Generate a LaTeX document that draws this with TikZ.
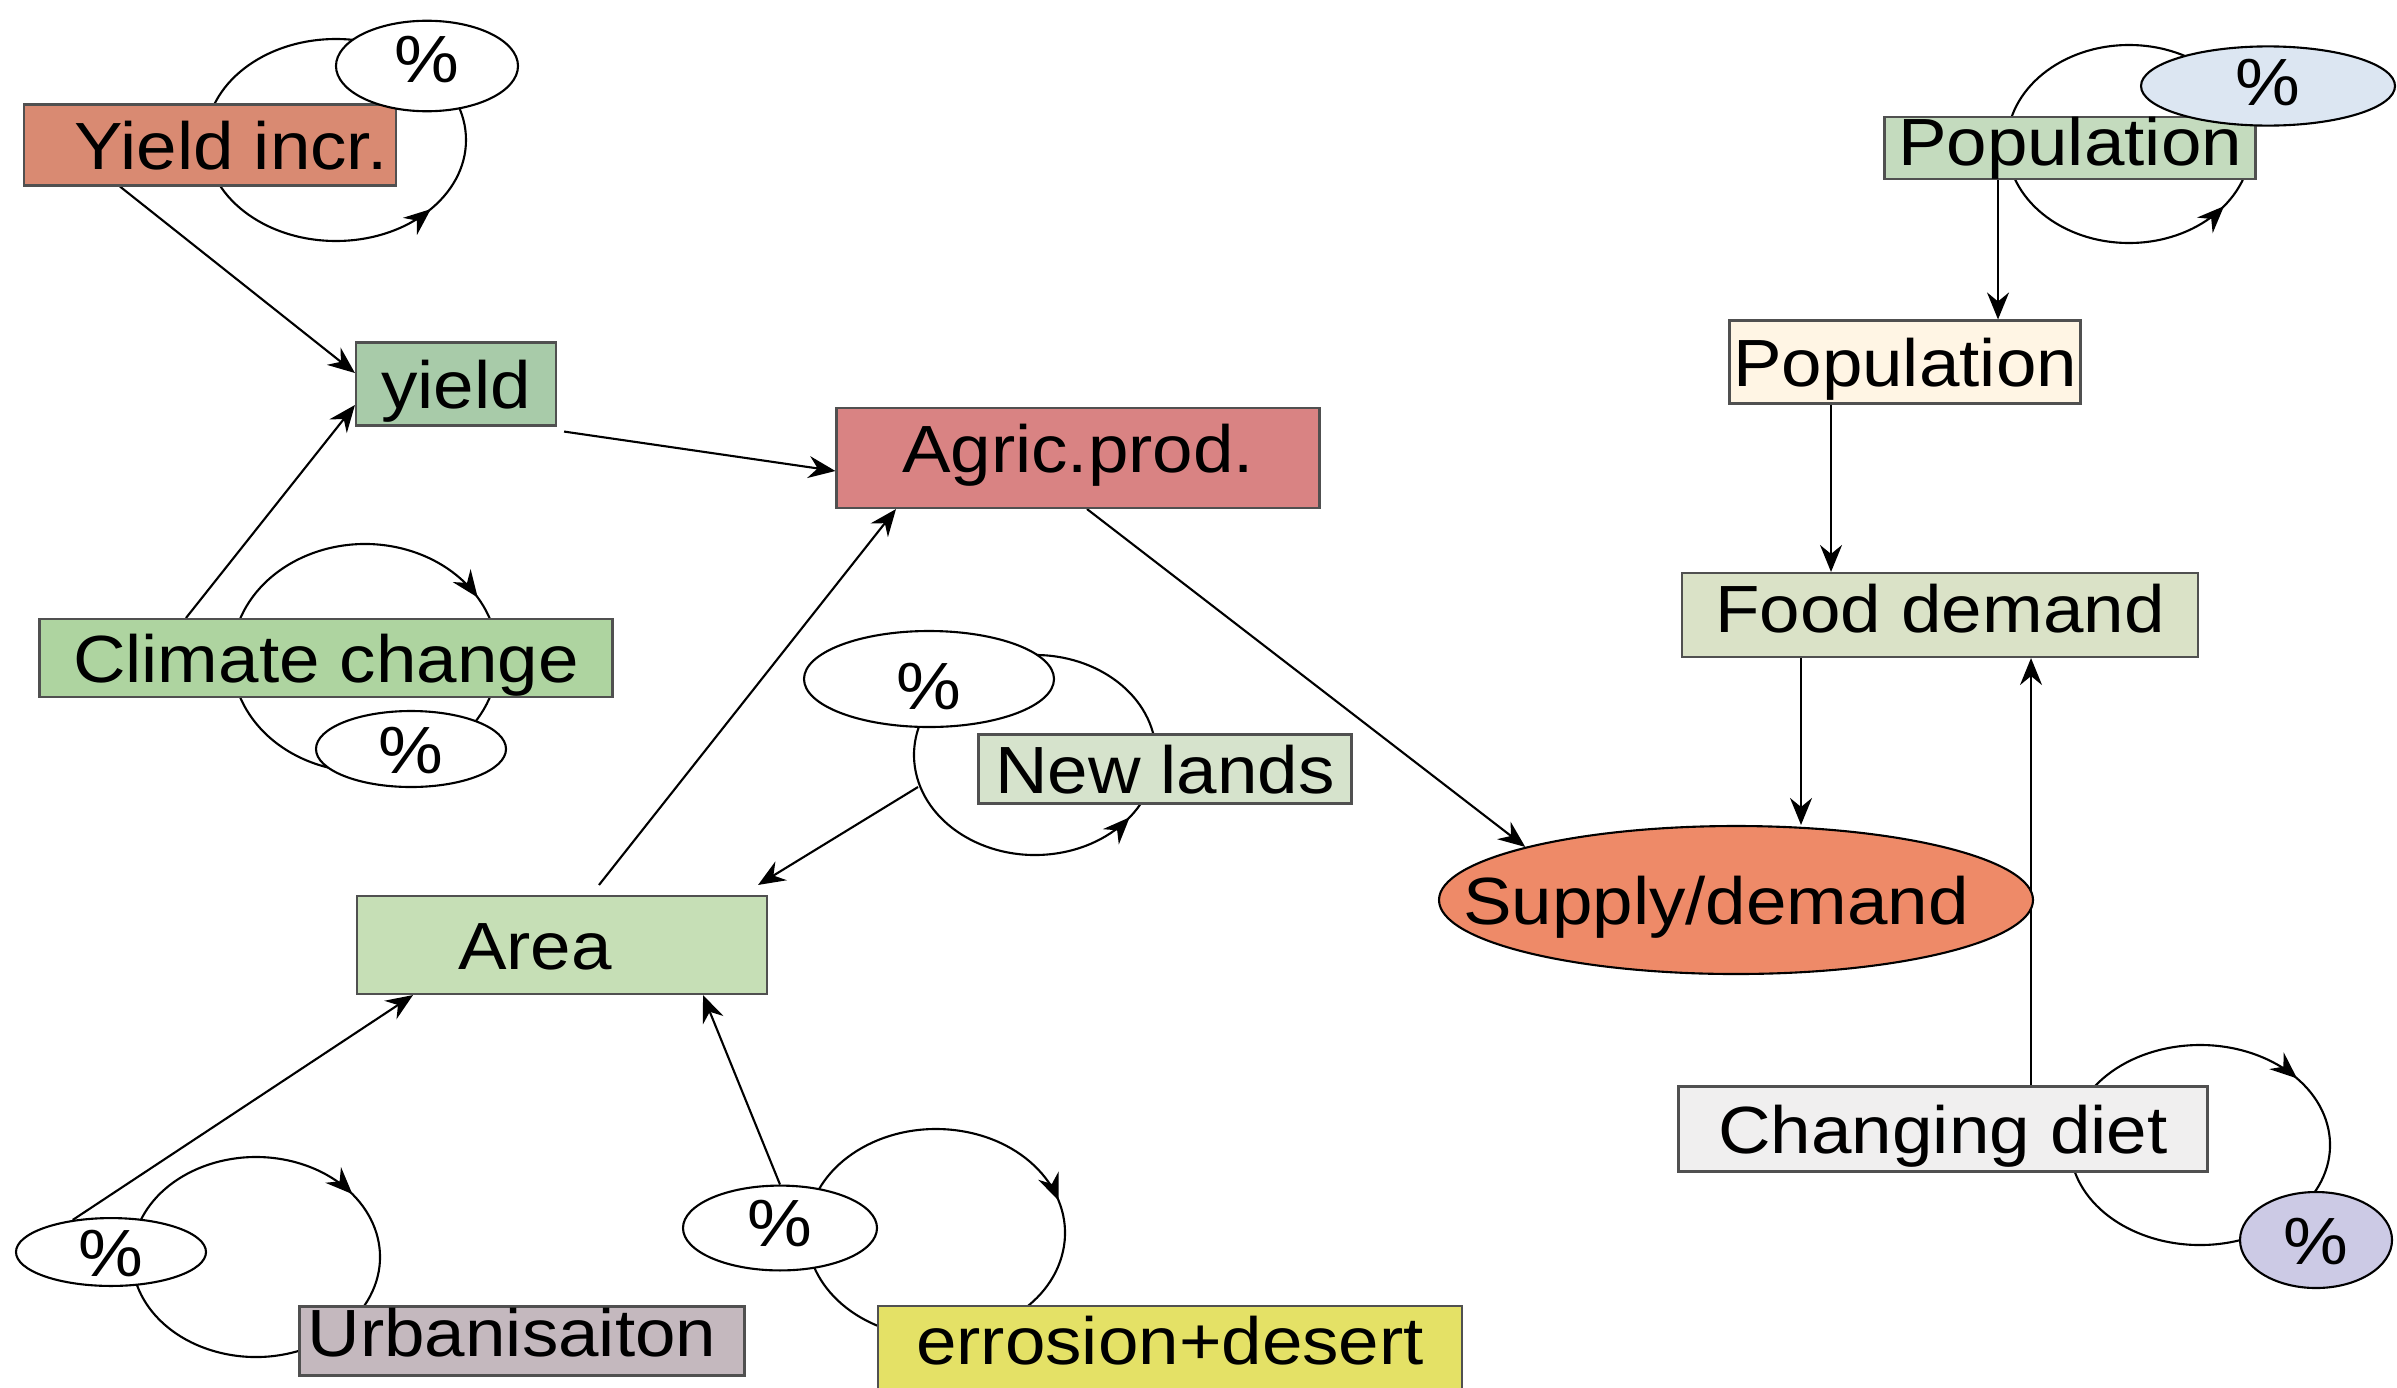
\documentclass[tikz,border=0pt]{standalone}
\usepackage{fontspec}
\setmainfont{Liberation Sans}[FakeStretch=1.09]
\usetikzlibrary{arrows.meta,shapes.geometric,decorations.markings,backgrounds}

\definecolor{boxline}{HTML}{505050}
\definecolor{yincfill}{HTML}{D98A72}
\definecolor{yieldfill}{HTML}{A8CBA9}
\definecolor{climfill}{HTML}{AED4A0}
\definecolor{agricfill}{HTML}{D98383}
\definecolor{areafill}{HTML}{C6DFB6}
\definecolor{newlfill}{HTML}{D6E3CC}
\definecolor{urbfill}{HTML}{C4B8BE}
\definecolor{erosfill}{HTML}{E4E166}
\definecolor{popgfill}{HTML}{C4DBBE}
\definecolor{popcfill}{HTML}{FFF5E4}
\definecolor{foodfill}{HTML}{DAE2C7}
\definecolor{dietfill}{HTML}{F0EFEF}
\definecolor{sdfill}{HTML}{EE8A68}
\definecolor{pctblue}{HTML}{DCE6F2}
\definecolor{pctlilac}{HTML}{CCCAE5}

\tikzset{
  varbox/.style={rectangle, draw=boxline, line width=0.6pt, inner sep=0pt,
    text height=0.48cm, text depth=0cm},
  pct/.style={ellipse, draw, fill=white, line width=0.6pt, inner sep=0pt,
    text height=0.48cm, text depth=0cm},
  arr/.style={line width=0.6pt, -{Stealth[length=2.7mm,width=2.2mm,inset=0.9mm]}},
  fbloop/.style={line width=0.6pt, postaction={decorate},
    decoration={markings, mark=at position #1 with {\arrow{Stealth[length=2.7mm,width=2.2mm,inset=0.9mm]}}}}
}

\begin{document}
\begin{tikzpicture}[font=\fontsize{19}{23}\selectfont]
\useasboundingbox (0,0) rectangle (23.97,13.87);

% supply side
\node[varbox, fill=yincfill, minimum width=3.72cm, minimum height=0.81cm] (yinc) at (2.10,12.42) {\kern0.42cm Yield incr.};
\node[pct, minimum width=1.82cm, minimum height=0.84cm, text depth=0.16cm] (pyinc) at (4.27,13.21) {\%};
\node[varbox, fill=yieldfill, minimum width=2.00cm, minimum height=0.83cm] (yield) at (4.56,10.03) {yield};
\node[varbox, fill=climfill, minimum width=5.73cm, minimum height=0.78cm] (clim) at (3.26,7.29) {Climate change};
\node[pct, minimum width=1.90cm, minimum height=0.76cm] (pclim) at (4.11,6.38) {\%};
\node[varbox, fill=agricfill, minimum width=4.83cm, minimum height=1.00cm, text depth=0.2cm] (agric) at (10.78,9.29) {Agric.prod.};
\node[varbox, fill=areafill, minimum width=4.10cm, minimum height=0.98cm] (area) at (5.62,4.42) {Area\kern0.54cm};
\node[varbox, fill=newlfill, minimum width=3.73cm, minimum height=0.69cm] (newl) at (11.65,6.18) {New lands};
\node[pct, minimum width=2.50cm, minimum height=0.96cm, text height=0.60cm] (pnewl) at (9.29,7.08) {\%};
\node[varbox, fill=urbfill, minimum width=4.45cm, minimum height=0.69cm, text depth=0.18cm] (urb) at (5.22,0.46) {Urbanisaiton\kern0.2cm};
\node[pct, minimum width=1.90cm, minimum height=0.64cm] (purb) at (1.11,1.35) {\%};
\node[varbox, fill=erosfill, minimum width=5.84cm, minimum height=0.84cm, text depth=0.16cm] (eros) at (11.70,0.39) {errosion+desert};
\node[pct, minimum width=1.94cm, minimum height=0.76cm, text depth=0.12cm] (peros) at (7.80,1.59) {\%};

% demand side
\node[varbox, fill=popgfill, minimum width=3.71cm, minimum height=0.61cm, text depth=0.14cm] (popg) at (20.70,12.39) {Population};
\node[pct, fill=pctblue, minimum width=2.54cm, minimum height=0.58cm, text depth=0.08cm] (ppop) at (22.68,13.01) {\%};
\node[varbox, fill=popcfill, minimum width=3.51cm, minimum height=0.83cm] (popc) at (19.05,10.25) {Population};
\node[varbox, fill=foodfill, minimum width=5.16cm, minimum height=0.84cm, text depth=0.14cm] (food) at (19.40,7.72) {Food demand};
\node[varbox, fill=dietfill, minimum width=5.29cm, minimum height=0.85cm] (diet) at (19.43,2.58) {Changing diet};
\node[pct, fill=pctlilac, minimum width=1.52cm, minimum height=0.96cm] (pdiet) at (23.16,1.47) {\%};
\node[ellipse, draw, fill=sdfill, line width=0.6pt, inner xsep=-1.2cm, inner ysep=0pt,
  text height=0.48cm, text depth=0cm, minimum width=5.94cm, minimum height=1.48cm] (sd) at (17.36,4.87) {Supply/demand\kern0.4cm};

\begin{scope}[on background layer]
% feedback loops
\coordinate (yincloop) at (3.36,12.47);
\coordinate (climloop) at (3.65,7.29);
\coordinate (newlloop) at (10.35,6.32);
\coordinate (urbloop) at (2.56,1.30);
\coordinate (erosloop) at (9.36,1.54);
\coordinate (poploop) at (21.29,12.43);
\coordinate (dietloop) at (22.00,2.42);
\draw[fbloop=0.39] ([shift={(180:1.30 and 1.01)}]yincloop) arc[start angle=180, end angle=540, x radius=1.30, y radius=1.01];
\draw[fbloop=0.37] ([shift={(162:1.33 and 1.14)}]climloop) arc[start angle=162, end angle=-198, x radius=1.33, y radius=1.14];
\draw[fbloop=0.62] ([shift={(100:1.21 and 1.00)}]newlloop) arc[start angle=100, end angle=460, x radius=1.21, y radius=1.00];
\draw[fbloop=0.35] ([shift={(160:1.24 and 1.00)}]urbloop) arc[start angle=160, end angle=-200, x radius=1.24, y radius=1.00];
\draw[fbloop=0.43] ([shift={(170:1.29 and 1.04)}]erosloop) arc[start angle=170, end angle=-190, x radius=1.29, y radius=1.04];
\draw[fbloop=0.40] ([shift={(180:1.22 and 0.99)}]poploop) arc[start angle=180, end angle=540, x radius=1.22, y radius=0.99];
\draw[fbloop=0.32] ([shift={(150:1.30 and 1.00)}]dietloop) arc[start angle=150, end angle=-210, x radius=1.30, y radius=1.00];

% links
\coordinate (nlout) at (9.18,6.00);
\draw[arr] ([xshift=-0.90cm]yinc.south) -- ([yshift=0.11cm]yield.west);
\draw[arr] ([xshift=-1.40cm]clim.north) -- ([yshift=-0.21cm]yield.west);
\draw[arr] ([shift={(0.07,-0.05)}]yield.south east) -- ([yshift=-0.13cm]agric.west);
\draw[arr] ([shift={(0.37,0.10)}]area.north) -- ([xshift=-1.82cm]agric.south);
\draw[arr] ([xshift=0.09cm]agric.south) -- (sd.north west);
\draw[arr] (nlout) -- ([shift={(-0.10,0.10)}]area.north east);
\draw[arr] (purb.140) -- ([xshift=-1.49cm]area.south);
\draw[arr] (peros.north) -- ([xshift=1.41cm]area.south);
\draw[arr] ([xshift=-0.72cm]popg.south) -- ([xshift=-0.72cm]popg.south |- popc.north);
\draw[arr] ([xshift=-0.74cm]popc.south) -- ([xshift=-0.74cm]popc.south |- food.north);
\draw[arr] ([xshift=-1.39cm]food.south) -- ([xshift=-1.39cm]food.south |- sd.north);
\draw[arr] ([xshift=0.88cm]diet.north) -- ([xshift=0.88cm]diet.north |- food.south);
\end{scope}
\end{tikzpicture}
\end{document}
